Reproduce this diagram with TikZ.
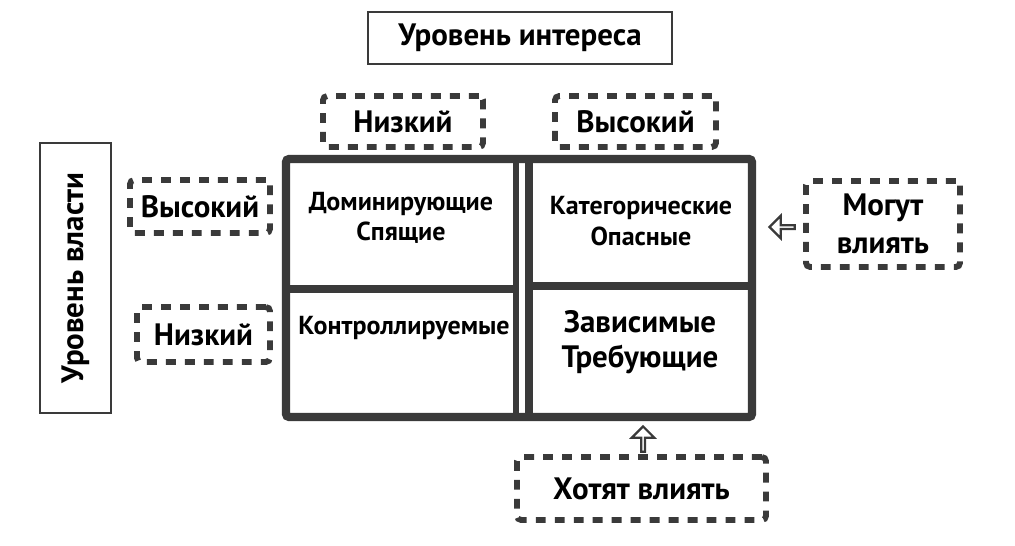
\documentclass[tikz,border=0pt]{standalone}
\usepackage{fontspec}
\setmainfont{PT Sans}
\usetikzlibrary{shapes.arrows}
\definecolor{frameGray}{HTML}{3A3A3A}

\tikzset{
    headbox/.style={draw=frameGray, line width=2pt, font=\bfseries\fontsize{22}{24}\selectfont, inner sep=0pt},
    dashbox/.style={draw=frameGray, line width=4.2pt, dash pattern=on 7pt off 6.5pt, rounded corners=3pt,
        font=\bfseries\fontsize{22}{27}\selectfont, inner sep=0pt, align=center},
    celltext/.style={font=\bfseries\fontsize{18.5}{21.5}\selectfont, align=center, inner sep=0pt},
    bigtext/.style={font=\bfseries\fontsize{22}{25}\selectfont, align=center, inner sep=0pt},
    hollow/.style={single arrow, draw=frameGray, line width=1.6pt, inner sep=0pt,
        minimum width=16pt, single arrow head extend=4pt, single arrow head indent=0pt, minimum height=18pt}
}

\begin{document}
\begin{tikzpicture}[x=0.025cm, y=-0.025cm]
    \useasboundingbox (0, 0) rectangle (1015, 546);

    % axis headings
    \node[headbox, minimum width=7.6cm, minimum height=1.3cm] (interest) at (520, 38) {Уровень интереса};
    \node[headbox, minimum width=1.775cm, minimum height=6.75cm] (power) at (75.5, 278) {};
    \node[font=\bfseries\fontsize{22}{24}\selectfont, rotate=90] (powerlabel) at (power.center) {Уровень власти};

    % column and row labels
    \node[dashbox, minimum width=4cm, minimum height=1.275cm] (lowI) at (403, 121.5) {Низкий};
    \node[dashbox, minimum width=4.025cm, minimum height=1.275cm] (highI) at (635.5, 121.5) {Высокий};
    \node[dashbox, minimum width=3.5cm, minimum height=1.325cm] (highP) at (200, 206.5) {Высокий};
    \node[dashbox, minimum width=3.325cm, minimum height=1.375cm] (lowP) at (203.5, 334.5) {Низкий};

    % grid
    \draw[frameGray, line width=5.7pt, rounded corners=2pt] (286, 159) rectangle (752, 417);
    \draw[frameGray, line width=4.3pt] (516, 159) -- (516, 417);
    \draw[frameGray, line width=5.7pt] (529, 159) -- (529, 417);
    \draw[frameGray, line width=5.7pt] (286, 289) -- (516, 289);
    \draw[frameGray, line width=5.7pt] (529, 286) -- (752, 286);

    \node[celltext] (domin) at (401, 218) {Доминирующие\\Спящие};
    \node[celltext] (categ) at (641, 221) {Категорические\\Опасные};
    \node[celltext] (control) at (404, 328) {Контроллируемые};
    \node[bigtext] (depend) at (640, 342) {Зависимые\\Требующие};

    % influence labels
    \node[dashbox, minimum width=3.85cm, minimum height=2.15cm] (may) at (883, 224) {Могут\\влиять};
    \node[dashbox, minimum width=6.225cm, minimum height=1.575cm] (want) at (641.5, 488.5) {Хотят влиять};

    \node[hollow, shape border rotate=180] (mayArrow) at (783, 227) {};
    \node[hollow, shape border rotate=90] (wantArrow) at (643, 440) {};
\end{tikzpicture}
\end{document}
